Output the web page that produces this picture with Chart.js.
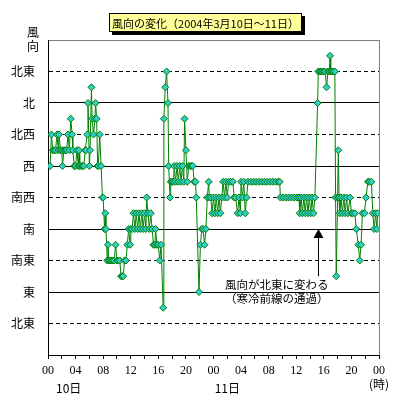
<!DOCTYPE html>
<html lang="ja">
<head>
  <meta charset="UTF-8">
  <title>風向の変化</title>
  <script src="https://cdn.jsdelivr.net/npm/chart.js"></script>
  <style>
    body { margin: 0; background: #fff; }
  </style>
</head>
<body>
<canvas id="windChart" width="399" height="399"></canvas>

<script>
  // wind direction in units of 45 deg (1 = 北東 ... 9 = 北東), x = hours from 3/10 00:00
  const windDay10 = [
    [0.3,6],[0.5,7],[0.7,6.5],[0.9,6.5],[1.1,6.5],[1.3,7],[1.5,6.5],[1.6,7],[1.8,6.5],[2.0,6.5],
    [2.1,6],[2.3,6.5],[2.5,6.5],[2.7,6.5],[2.9,7],[3.1,6.5],[3.3,7.5],[3.5,7],[3.6,6.5],[3.8,6],
    [4.0,6],[4.2,6.5],[4.4,6],[4.5,6.5],[4.6,6],[4.8,6],[5.0,6],[5.2,6],[5.4,6.5],[5.5,6.5],
    [5.7,7],[5.8,8],[6.0,6],[6.1,6.5],[6.3,8.5],[6.4,7.5],[6.6,7],[6.8,7.5],[6.9,8],[7.05,7.5],
    [7.2,6],[7.3,6],[7.5,7],[7.7,6],[7.9,5],[8.0,5],[8.2,4],[8.3,4.5],[8.4,4],[8.6,3],
    [8.7,3.5],[8.8,3],[9.0,3],[9.2,3],[9.4,3],[9.6,3],[9.8,3.5],[10.0,3],[10.2,3],[10.4,3],
    [10.6,2.5],[10.8,2.5],[10.9,2.5],[11.1,3],[11.3,3],[11.5,3.5],[11.7,4],[11.9,3.5],[12.0,4],[12.2,4],
    [12.4,4.5],[12.6,4],[12.8,4.5],[13.0,4],[13.2,4.5],[13.4,4],[13.6,4.5],[13.8,4],[14.0,4.5],[14.2,4],
    [14.3,5],[14.5,4.5],[14.7,4],[14.9,4.5],[15.1,4],[15.3,3.5],[15.5,3.5],[15.6,4],[15.8,3.5],[16.0,3.5],
    [16.2,3],[16.4,3.5],[16.7,1.5],[16.8,7.5],[17.0,8.5],[17.2,9],[17.4,8],[17.5,6],[17.7,5],[17.8,5.5],
    [18.0,5.5],[18.2,5.5],[18.3,6],[18.5,5.5],[18.7,6],[18.9,5.5],[19.1,6],[19.3,5.5],[19.5,6],[19.7,5.5],
    [19.8,7.5],[20.0,6.5],[20.2,5.5],[20.4,6],[20.6,6],[20.8,6],[21.0,6],[21.2,5.5],[21.4,5.5],[21.5,5],
    [21.9,2],[22.1,3.5],[22.3,4],[22.5,4],[22.7,3.5],[22.9,4],[23.1,5],[23.3,5.5],[23.4,5],[23.6,5],
    [23.8,4.5]
  ];
  const windDay11 = [
    [24.0,5],[24.2,4.5],[24.4,5],[24.6,4.5],[24.8,5],[25.0,4.5],[25.2,5],[25.4,5.5],[25.6,5],[25.8,5.5],
    [26.0,5],[26.2,5.5],[26.5,5.5],[26.8,5.5],[27.0,5],[27.2,5],[27.5,4.5],[27.7,5],[27.9,4.5],[28.0,5.5],
    [28.2,5],[28.4,5.5],[28.6,4.5],[28.8,5],[29.0,5.5],[29.4,5.5],[29.8,5.5],[30.2,5.5],[30.6,5.5],[31.0,5.5],
    [31.4,5.5],[31.8,5.5],[32.2,5.5],[32.6,5.5],[33.0,5.5],[33.4,5.5],[33.6,5.5],[33.7,5],[34.1,5],[34.5,5],
    [34.9,5],[35.3,5],[35.7,5],[36.1,5],[36.4,5],[36.5,4.5],[36.7,5],[36.9,4.5],[37.1,5],[37.3,4.5],
    [37.5,5],[37.7,4.5],[37.9,5],[38.1,4.5],[38.3,5],[38.5,4.5],[38.7,5],[39.1,8],[39.2,9],[39.4,9],
    [39.6,9],[39.8,9],[40.0,9],[40.2,9],[40.4,8.5],[40.6,9],[40.8,9],[40.9,9.5],[41.0,9],[41.2,9],
    [41.4,9],[41.6,9],[41.7,5],[41.8,2.5],[42.0,5],[42.1,6.5],[42.2,5],[42.3,4.5],[42.5,5],[42.7,4.5],
    [42.9,5],[43.1,4.5],[43.3,5],[43.5,4.5],[43.8,5],[44.0,4.5],[44.2,4.5],[44.5,4.5],[44.7,4],[45.0,3.5],
    [45.2,3],[45.4,3.5],[45.6,4.5],[45.9,4.5],[46.1,5],[46.4,5.5],[46.6,5.5],[46.9,5.5],[47.1,4.5],[47.3,4],
    [47.5,4.5],[47.7,4],[47.8,4.5]
  ];

  const yTickLabels = ['', '北東', '東', '南東', '南', '南西', '西', '北西', '北', '北東', ''];
  const xTickLabels = ['00', '04', '08', '12', '16', '20', '00', '04', '08', '12', '16', '20', '00'];
  const dayLabels = [{ text: '10日', hour: 3 }, { text: '11日', hour: 26 }];
  const chartTitle = '風向の変化（2004年3月10日～11日）';
  const note = { hour: 39.1, tip: 4, tail: 2.5, lines: ['風向が北東に変わる', '（寒冷前線の通過）'] };

  const jp = '"Noto Sans CJK JP", sans-serif';

  const points = windDay10.concat(windDay11).map(p => ({ x: p[0], y: p[1] }));

  const decor = {
    id: 'decor',
    beforeDatasetsDraw(chart) {
      const { ctx, chartArea: a } = chart;
      ctx.save();
      ctx.strokeStyle = '#808080';
      ctx.lineWidth = 1;
      ctx.beginPath();
      ctx.moveTo(a.right + 0.5, a.top);
      ctx.lineTo(a.right + 0.5, a.bottom);
      ctx.stroke();
      ctx.restore();
    },
    afterDraw(chart) {
      const { ctx, chartArea: a, scales: { x, y } } = chart;
      ctx.save();

      // title box
      ctx.font = '11px ' + jp;
      const tw = ctx.measureText(chartTitle).width;
      const bw = Math.round(tw + 6), bh = 19;
      const bx = Math.round(205 - bw / 2), by = 13;
      ctx.fillStyle = '#000';
      ctx.fillRect(bx + 3, by + 3, bw, bh);
      ctx.fillStyle = '#ffff99';
      ctx.fillRect(bx, by, bw, bh);
      ctx.strokeStyle = '#000';
      ctx.lineWidth = 1;
      ctx.strokeRect(bx + 0.5, by + 0.5, bw - 1, bh - 1);
      ctx.fillStyle = '#000';
      ctx.textAlign = 'center';
      ctx.textBaseline = 'middle';
      ctx.fillText(chartTitle, bx + bw / 2, by + bh / 2 + 1);

      // axis title
      ctx.font = '12px ' + jp;
      ctx.fillText('風', 33, 32);
      ctx.fillText('向', 33, 46);

      // day labels and unit
      ctx.font = '12px ' + jp;
      dayLabels.forEach(d => ctx.fillText(d.text, x.getPixelForValue(d.hour), 388));
      ctx.fillText('(時)', x.getPixelForValue(48), 384);

      // arrow annotation
      const ax = Math.round(x.getPixelForValue(note.hour)) + 0.5;
      const tipY = y.getPixelForValue(note.tip);
      const tailY = y.getPixelForValue(note.tail);
      ctx.beginPath();
      ctx.moveTo(ax, tipY);
      ctx.lineTo(ax - 5, tipY + 9);
      ctx.lineTo(ax + 5, tipY + 9);
      ctx.closePath();
      ctx.fill();
      ctx.beginPath();
      ctx.moveTo(ax, tipY + 8);
      ctx.lineTo(ax, tailY);
      ctx.strokeStyle = '#000';
      ctx.stroke();

      ctx.textAlign = 'left';
      ctx.font = '11.5px ' + jp;
      ctx.fillText(note.lines[0], 225, 285);
      ctx.fillText(note.lines[1], 225, 299);
      ctx.restore();
    }
  };

  new Chart(document.getElementById('windChart'), {
    type: 'scatter',
    data: {
      datasets: [{
        data: points,
        showLine: true,
        borderColor: '#008000',
        borderWidth: 1,
        backgroundColor: '#33cccc',
        pointStyle: 'rectRot',
        pointRadius: 3.5,
        pointBorderColor: '#008000',
        pointBorderWidth: 1,
        tension: 0
      }]
    },
    options: {
      responsive: false,
      animation: false,
      layout: { padding: { top: 40, right: 20, left: 0, bottom: 0 } },
      plugins: {
        legend: { display: false },
        tooltip: { enabled: false }
      },
      scales: {
        x: {
          type: 'linear',
          min: 0,
          max: 48,
          afterFit: s => { s.height = 44; },
          ticks: {
            stepSize: 2,
            autoSkip: false,
            maxRotation: 0,
            padding: 5,
            color: '#000',
            font: { family: '"Liberation Serif", serif', size: 12 },
            callback: v => (v % 4 === 0 ? xTickLabels[v / 4] : '')
          },
          grid: {
            drawOnChartArea: false,
            drawTicks: true,
            tickLength: 4,
            tickColor: '#000'
          },
          border: { color: '#000', width: 1 }
        },
        y: {
          min: 0,
          max: 10,
          afterFit: s => { s.width = 48; },
          ticks: {
            stepSize: 1,
            padding: 13,
            color: '#000',
            font: { family: jp, size: 12 },
            callback: v => yTickLabels[v]
          },
          grid: {
            drawTicks: false,
            lineWidth: 1,
            color: c => (c.tick && c.tick.value === 10 ? '#808080' : '#000')
          },
          border: {
            color: '#000',
            width: 1,
            dash: c => (c.tick && c.tick.value % 2 === 1 ? [4, 3] : [])
          }
        }
      }
    },
    plugins: [decor]
  });
</script>
</body>
</html>
